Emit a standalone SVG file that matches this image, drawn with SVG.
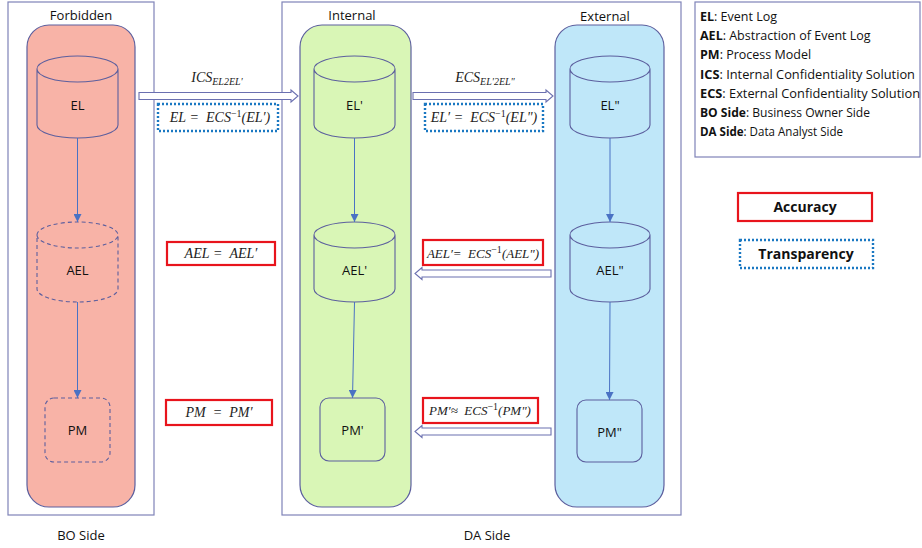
<svg xmlns="http://www.w3.org/2000/svg" width="922" height="548" viewBox="0 0 922 548">
<defs>
<style>
.frame{fill:#fff;stroke:#7f83b8;stroke-width:1.2}
.pill{stroke:#5c5f9e;stroke-width:1.2}
.node{stroke:#5c5f9e;stroke-width:1.1}
.dash{stroke-dasharray:4 3}
.lbl{font-family:"Open Sans","Liberation Sans",sans-serif;font-size:13px;fill:#111;text-anchor:middle}
.math{font-family:"Liberation Serif",serif;font-style:italic;font-size:14px;fill:#222;text-anchor:middle}
.sm{font-size:13px}
.sup{font-style:normal;font-size:10px}
.sub{font-size:10px}
.acc{fill:#fff;stroke:#e8141c;stroke-width:2.2}
.tra{fill:#fff;stroke:#1a78c2;stroke-width:2.4;stroke-dasharray:2 2}
.conn{stroke:#4a72c4;stroke-width:1;fill:none}
.blk{fill:#fff;stroke:#6b70b0;stroke-width:1.1}
.leg{font-family:"Open Sans","Liberation Sans",sans-serif;font-size:12.5px;fill:#111}
.legb{font-weight:bold}
</style>
<marker id="ah" viewBox="0 0 10 10" refX="10" refY="5" markerWidth="8" markerHeight="8" markerUnits="userSpaceOnUse" orient="auto">
<path d="M0 0 L10 5 L0 10 Z" fill="#4a72c4"/>
</marker>
</defs>

<g id="bo-side">
<rect class="frame" x="8" y="2" width="146" height="513"/>
<text class="lbl" x="81" y="540">BO Side</text>
</g>
<g id="da-side">
<rect class="frame" x="282" y="2" width="399" height="513"/>
<text class="lbl" x="487" y="540">DA Side</text>
</g>

<g id="forbidden">
<rect class="pill" x="27" y="25" width="108" height="482" rx="22" fill="#f8b3a7"/>
<text class="lbl" x="81" y="20">Forbidden</text>
</g>
<g id="internal">
<rect class="pill" x="300" y="25" width="111" height="482" rx="22" fill="#d9f6b6"/>
<text class="lbl" x="352" y="20">Internal</text>
</g>
<g id="external">
<rect class="pill" x="555" y="25" width="109" height="482" rx="22" fill="#bfe7f9"/>
<text class="lbl" x="605" y="21">External</text>
</g>

<g id="node-EL">
<path class="node" fill="#f8b3a7" d="M37 69 A40.5 13 0 0 1 118 69 V125 A40.5 13 0 0 1 37 125 Z M37 69 A40.5 13 0 0 0 118 69"/>
<text class="lbl" x="77.5" y="110">EL</text>
</g>
<g id="node-AEL">
<path class="node dash" fill="#f8b3a7" d="M37 235 A40.5 13 0 0 1 118 235 V289 A40.5 13 0 0 1 37 289 Z M37 235 A40.5 13 0 0 0 118 235"/>
<text class="lbl" x="77.5" y="275">AEL</text>
</g>
<g id="node-PM">
<rect class="node dash" fill="#f8b3a7" x="45" y="398" width="65" height="64" rx="9"/>
<text class="lbl" x="77.5" y="435">PM</text>
</g>

<g id="node-ELp">
<path class="node" fill="#d9f6b6" d="M314 69 A40.5 13 0 0 1 395 69 V125 A40.5 13 0 0 1 314 125 Z M314 69 A40.5 13 0 0 0 395 69"/>
<text class="lbl" x="354.5" y="110">EL'</text>
</g>
<g id="node-AELp">
<path class="node" fill="#d9f6b6" d="M314 235 A40.5 13 0 0 1 395 235 V289 A40.5 13 0 0 1 314 289 Z M314 235 A40.5 13 0 0 0 395 235"/>
<text class="lbl" x="354.5" y="275">AEL'</text>
</g>
<g id="node-PMp">
<rect class="node" fill="#d9f6b6" x="320" y="398" width="65" height="63" rx="9"/>
<text class="lbl" x="352.5" y="435">PM'</text>
</g>

<g id="node-ELpp">
<path class="node" fill="#bfe7f9" d="M570 69 A40 13 0 0 1 650 69 V125 A40 13 0 0 1 570 125 Z M570 69 A40 13 0 0 0 650 69"/>
<text class="lbl" x="610" y="110">EL"</text>
</g>
<g id="node-AELpp">
<path class="node" fill="#bfe7f9" d="M570 235 A40 13 0 0 1 650 235 V289 A40 13 0 0 1 570 289 Z M570 235 A40 13 0 0 0 650 235"/>
<text class="lbl" x="610" y="275">AEL"</text>
</g>
<g id="node-PMpp">
<rect class="node" fill="#bfe7f9" x="577" y="400" width="65" height="62" rx="9"/>
<text class="lbl" x="609.5" y="437">PM"</text>
</g>

<g id="connectors">
<line class="conn" x1="77.5" y1="138" x2="77.5" y2="222" marker-end="url(#ah)"/>
<line class="conn" x1="77.5" y1="302" x2="77.5" y2="398" marker-end="url(#ah)"/>
<line class="conn" x1="354.5" y1="138" x2="354.5" y2="222" marker-end="url(#ah)"/>
<line class="conn" x1="354.5" y1="302" x2="352.5" y2="398" marker-end="url(#ah)"/>
<line class="conn" x1="610" y1="138" x2="610" y2="222" marker-end="url(#ah)"/>
<line class="conn" x1="610" y1="302" x2="609.5" y2="400" marker-end="url(#ah)"/>
<path class="blk" d="M139 92.5 H291 V90 L298 96 L291 102 V99.5 H139 Z"/>
<path class="blk" d="M413 92.5 H546 V90 L553 96 L546 102 V99.5 H413 Z"/>
<path class="blk" d="M551 270 H422 V267.5 L415 273.5 L422 279.5 V277 H551 Z"/>
<path class="blk" d="M551 428 H422 V425.5 L415 431.5 L422 437.5 V435 H551 Z"/>
</g>

<g id="label-ics">
<text class="math" x="217" y="82">ICS<tspan class="sub" dy="3">EL2EL′</tspan></text>
</g>
<g id="label-ecs">
<text class="math" x="485" y="82">ECS<tspan class="sub" dy="3">EL′2EL"</tspan></text>
</g>

<g id="eq-el">
<rect class="tra" x="158" y="104" width="120" height="27"/>
<text class="math" x="220" y="122">EL&#160;=&#160;&#160;ECS<tspan class="sup" dy="-5">−1</tspan><tspan dy="5">(EL′)</tspan></text>
</g>
<g id="eq-elp">
<rect class="tra" x="425" y="104" width="118" height="27"/>
<text class="math" x="484" y="122">EL′&#160;=&#160;&#160;ECS<tspan class="sup" dy="-5">−1</tspan><tspan dy="5">(EL")</tspan></text>
</g>
<g id="eq-ael">
<rect class="acc" x="167" y="242" width="108" height="23"/>
<text class="math" x="221" y="258">AEL&#160;=&#160;&#160;AEL′</text>
</g>
<g id="eq-aelp">
<rect class="acc" x="423" y="240" width="120" height="25"/>
<text class="math sm" x="483" y="258">AEL′=&#160;&#160;ECS<tspan class="sup" dy="-5">−1</tspan><tspan dy="5">(AEL")</tspan></text>
</g>
<g id="eq-pm">
<rect class="acc" x="166" y="400" width="106" height="25"/>
<text class="math" x="219" y="417">PM&#160;&#160;=&#160;&#160;PM′</text>
</g>
<g id="eq-pmp">
<rect class="acc" x="423" y="398" width="115" height="25"/>
<text class="math sm" x="480" y="415">PM′≈&#160;&#160;ECS<tspan class="sup" dy="-5">−1</tspan><tspan dy="5">(PM")</tspan></text>
</g>

<g id="legend">
<rect class="frame" x="695" y="2" width="225" height="155"/>
<text class="leg" x="700" y="21"><tspan class="legb">EL</tspan>: Event Log</text>
<text class="leg" x="700" y="40"><tspan class="legb">AEL</tspan>: Abstraction of Event Log</text>
<text class="leg" x="700" y="59"><tspan class="legb">PM</tspan>: Process Model</text>
<text class="leg" x="700" y="79" textLength="215" lengthAdjust="spacingAndGlyphs"><tspan class="legb">ICS</tspan>: Internal Confidentiality Solution</text>
<text class="leg" x="700" y="98" textLength="220" lengthAdjust="spacingAndGlyphs"><tspan class="legb">ECS</tspan>: External Confidentiality Solution</text>
<text class="leg" x="700" y="117" textLength="170" lengthAdjust="spacingAndGlyphs"><tspan class="legb">BO Side</tspan>: Business Owner Side</text>
<text class="leg" x="700" y="136" textLength="143" lengthAdjust="spacingAndGlyphs"><tspan class="legb">DA Side</tspan>: Data Analyst Side</text>
</g>

<g id="key-accuracy">
<rect class="acc" x="738" y="193" width="134" height="28"/>
<text class="lbl" x="805" y="212" style="font-weight:bold;font-size:14px">Accuracy</text>
</g>
<g id="key-transparency">
<rect class="tra" x="740" y="240" width="133" height="28"/>
<text class="lbl" x="806" y="259" style="font-weight:bold;font-size:14px">Transparency</text>
</g>
</svg>
